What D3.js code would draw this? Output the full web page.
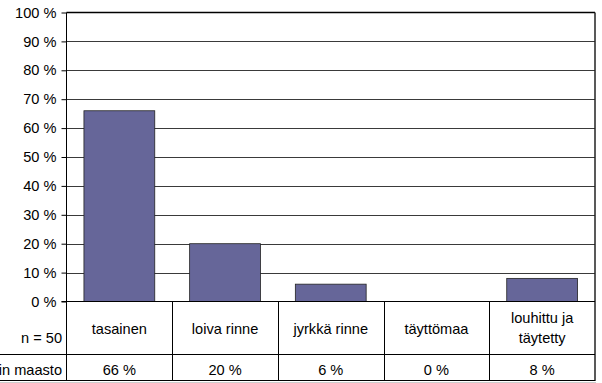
<!DOCTYPE html>
<html>
<head>
<meta charset="utf-8">
<script src="https://cdn.jsdelivr.net/npm/d3@7"></script>
<style>
  html, body { margin: 0; padding: 0; background: #fff; }
  svg { display: block; }
  text { font-family: "Liberation Sans", Arial, sans-serif; fill: #000; }
</style>
</head>
<body>
<svg id="chart" width="602" height="383"></svg>
<script>
// Maaston jakauma (n = 50)
const categories = ["tasainen", "loiva rinne", "jyrkkä rinne", "täyttömaa", "louhittu ja täytetty"];
const categoryLines = [["tasainen"], ["loiva rinne"], ["jyrkkä rinne"], ["täyttömaa"], ["louhittu ja", "täytetty"]];
const values = [66, 20, 6, 0, 8];
const yTicks = [0, 10, 20, 30, 40, 50, 60, 70, 80, 90, 100];
const rowLabels = ["n = 50", "Tontin maasto"];

const FS = 14.6;
const svg = d3.select("#chart");
const plotLeft = 66.5, plotRight = 595, plotTop = 12.5, plotBottom = 301.5;
const row1 = 354.5, row2 = 381;

const x = d3.scaleBand().domain(categories).range([plotLeft, plotRight]).paddingInner(0.33).paddingOuter(0.165);
const xCol = d3.scaleBand().domain(categories).range([plotLeft, plotRight]);
const y = d3.scaleLinear().domain([0, 100]).range([plotBottom, plotTop]);

// gridlines
svg.append("g").selectAll("line").data(yTicks.filter(d => d > 0 && d < 100)).join("line")
  .attr("x1", plotLeft).attr("x2", plotRight)
  .attr("y1", d => Math.round(y(d)) + 0.5).attr("y2", d => Math.round(y(d)) + 0.5)
  .attr("stroke", "#3a3a3a").attr("stroke-width", 1);

// bars
svg.append("g").selectAll("rect").data(values).join("rect")
  .attr("x", (d, i) => x(categories[i]))
  .attr("width", x.bandwidth())
  .attr("y", d => y(d))
  .attr("height", d => y(0) - y(d))
  .attr("fill", "#666699")
  .attr("stroke", "#222").attr("stroke-width", 0.8);

// y axis
const yAxis = d3.axisLeft(y).tickValues(yTicks).tickSize(5).tickPadding(5)
  .tickFormat(d => d + " %");
const ya = svg.append("g").attr("transform", `translate(${plotLeft},0)`).call(yAxis);
ya.select(".domain").remove();
ya.selectAll("line").attr("stroke", "#000");
ya.selectAll("text").attr("font-size", FS).attr("font-family", "Liberation Sans, Arial, sans-serif");

// plot frame
svg.append("line").attr("x1", plotLeft).attr("x2", plotLeft).attr("y1", plotTop).attr("y2", row2).attr("stroke", "#000");
svg.append("line").attr("x1", plotLeft).attr("x2", plotRight).attr("y1", plotTop).attr("y2", plotTop).attr("stroke", "#000").attr("stroke-width", 1.5);
svg.append("line").attr("x1", plotRight).attr("x2", plotRight).attr("y1", plotTop).attr("y2", row2).attr("stroke", "#222").attr("stroke-width", 1.5);
svg.append("line").attr("x1", plotLeft - 5).attr("x2", plotRight).attr("y1", plotBottom).attr("y2", plotBottom).attr("stroke", "#000");

// data table
svg.append("g").selectAll("line").data(categories.slice(1)).join("line")
  .attr("x1", d => Math.round(xCol(d)) + 0.5).attr("x2", d => Math.round(xCol(d)) + 0.5)
  .attr("y1", plotBottom).attr("y2", row2).attr("stroke", "#000");
svg.append("line").attr("x1", 0).attr("x2", plotRight).attr("y1", row1).attr("y2", row1).attr("stroke", "#000");
svg.append("line").attr("x1", 0).attr("x2", plotRight).attr("y1", row2 - 0.5).attr("y2", row2 - 0.5).attr("stroke", "#000");
svg.append("line").attr("x1", 0).attr("x2", plotRight + 1).attr("y1", row2 + 1.5).attr("y2", row2 + 1.5).attr("stroke", "#ccc");

const cat = svg.append("g").selectAll("text").data(categoryLines).join("text")
  .attr("text-anchor", "middle").attr("font-size", FS)
  .attr("x", (d, i) => xCol(categories[i]) + xCol.bandwidth() / 2)
  .attr("y", d => d.length > 1 ? 323 : 334);
cat.selectAll("tspan").data(d => d).join("tspan")
  .attr("x", function () { return this.parentNode.getAttribute("x"); })
  .attr("dy", (d, i) => i === 0 ? 0 : 20)
  .text(d => d);

svg.append("g").selectAll("text").data(values).join("text")
  .attr("text-anchor", "middle").attr("font-size", FS)
  .attr("x", (d, i) => xCol(categories[i]) + xCol.bandwidth() / 2)
  .attr("y", 375)
  .text(d => d + " %");

svg.append("text").attr("x", 62).attr("y", 343).attr("text-anchor", "end").attr("font-size", FS).text(rowLabels[0]);
svg.append("text").attr("x", 62).attr("y", 375).attr("text-anchor", "end").attr("font-size", FS).text(rowLabels[1]);
</script>
</body>
</html>
